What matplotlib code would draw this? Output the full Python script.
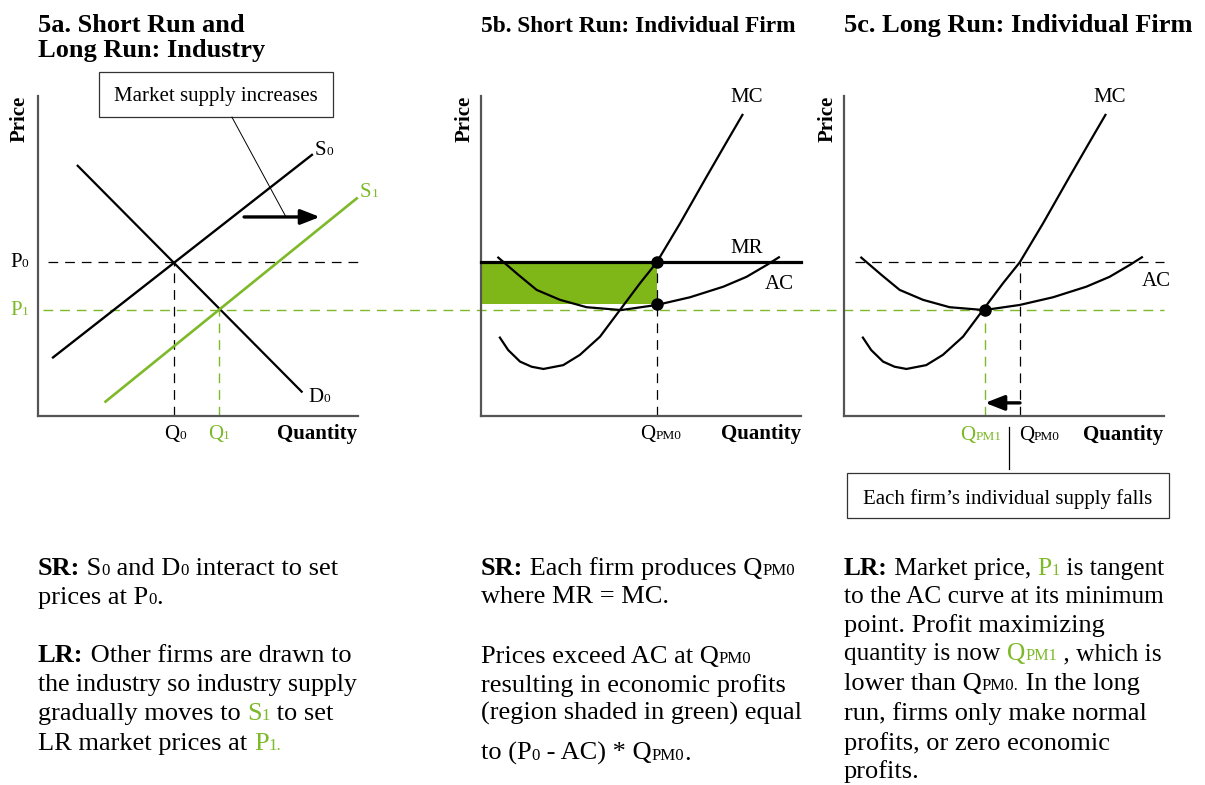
import matplotlib
matplotlib.use('Agg')
import matplotlib.pyplot as plt
from matplotlib.patches import Rectangle
from matplotlib.font_manager import FontProperties
import matplotlib.transforms as mtransforms

plt.rcParams['lines.scale_dashes'] = False
SERIF = ['Liberation Serif', 'DejaVu Serif']
GREEN = '#7DB928'
FILL_GREEN = '#7FB719'
AXIS_GRAY = '#555555'

# ---------------- data (panel units 0..10) ----------------
# Panel 5a: industry supply & demand
S0_Q = [0.47, 8.56]
S0_P = [1.83, 8.16]
S1_Q = [2.11, 9.96]
S1_P = [0.45, 6.80]
D0_Q = [1.24, 8.24]
D0_P = [7.82, 0.76]
P0 = 4.81
P1 = 3.31
Q0 = 4.25
Q1 = 5.67

# Panels 5b / 5c: firm cost curves
MC_Q = [0.59, 0.85, 1.22, 1.58, 1.95, 2.57, 3.09, 3.72, 4.34, 4.97, 5.49, 6.22, 7.05, 7.68, 8.17]
MC_P = [2.45, 2.06, 1.70, 1.54, 1.47, 1.59, 1.91, 2.48, 3.31, 4.15, 4.80, 6.02, 7.48, 8.57, 9.41]
AC_Q = [0.54, 1.17, 1.74, 2.47, 3.30, 4.38, 5.49, 6.53, 7.57, 8.30, 8.93, 9.31]
AC_P = [4.95, 4.41, 3.94, 3.63, 3.40, 3.31, 3.47, 3.71, 4.04, 4.35, 4.72, 4.96]
QPM0 = 5.50
QPM1 = 4.41
AC_AT_QPM0 = 3.50

# ---------------- figure & helpers ----------------
W, H = 1205, 785
fig = plt.figure(figsize=(W / 100, H / 100), dpi=100)
PX = mtransforms.Affine2D().scale(1 / 100, -1 / 100).translate(0, H / 100) + fig.dpi_scale_trans
renderer = fig.canvas.get_renderer()

DASH = (0, (7, 5))


def fp(size, bold=False):
    return FontProperties(family=SERIF, size=size, weight='bold' if bold else 'normal')


def twidth(s, size, bold=False):
    p = fp(size, bold)
    w1, _, _ = renderer.get_text_width_height_descent('x' + s + 'x', p, ismath=False)
    w0, _, _ = renderer.get_text_width_height_descent('xx', p, ismath=False)
    return (w1 - w0) * 100.0 / fig.dpi


def rich(x, y, pieces, size, ha='left', small=0.64):
    """pieces: list of (text, flags) where flags may contain b (bold), s (small), g (green)."""
    widths = []
    for txt, fl in pieces:
        sz = size * small if 's' in fl else size
        widths.append(twidth(txt, sz, 'b' in fl))
    total = sum(widths)
    if ha == 'center':
        x -= total / 2
    elif ha == 'right':
        x -= total
    for (txt, fl), w in zip(pieces, widths):
        sz = size * small if 's' in fl else size
        fig.text(x, y, txt, transform=PX, fontproperties=fp(sz, 'b' in fl),
                 color=GREEN if 'g' in fl else 'black', ha='left', va='baseline')
        x += w


def add_panel(left_px):
    ax = fig.add_axes([left_px / W, (H - 416) / H, 320 / W, 320 / H])
    ax.set_xlim(0, 10)
    ax.set_ylim(0, 10)
    ax.patch.set_visible(False)
    for s in ['top', 'right']:
        ax.spines[s].set_visible(False)
    for s in ['left', 'bottom']:
        ax.spines[s].set_color(AXIS_GRAY)
        ax.spines[s].set_linewidth(1.6)
    ax.set_xticks([])
    ax.set_yticks([])
    return ax


LAB = 15.0      # chart label size
BODY = 19.0     # explanatory text size
BODY_TIGHT = 18.3

# ---------------- Panel 5a ----------------
axa = add_panel(38)
x_end_c = (1164 - 38) / 32.0
axa.plot([0.16, x_end_c], [P1, P1], color=GREEN, lw=1.0, ls=DASH, clip_on=False, zorder=1)
axa.plot([0.31, 10], [P0, P0], color='black', lw=0.9, ls=DASH, clip_on=False, zorder=1)
axa.plot([Q0, Q0], [0, P0], color='black', lw=0.9, ls=DASH, clip_on=False, zorder=1)
axa.plot([Q1, Q1], [0, P1], color=GREEN, lw=1.0, ls=DASH, clip_on=False, zorder=1)
axa.plot(S0_Q, S0_P, color='black', lw=1.7, clip_on=False, zorder=3)
axa.plot(D0_Q, D0_P, color='black', lw=1.6, clip_on=False, zorder=3)
axa.plot(S1_Q, S1_P, color=GREEN, lw=1.9, clip_on=False, zorder=3)
axa.annotate('', xy=(8.81, 6.22), xytext=(6.44, 6.22),
             arrowprops=dict(arrowstyle='-|>,head_length=1.15,head_width=0.45',
                             lw=2.4, color='black', shrinkA=0, shrinkB=0), annotation_clip=False)
axa.plot([6.06, 7.75], [9.34, 6.22], color='black', lw=0.7, clip_on=False, zorder=2)
axa.add_patch(Rectangle((1.90, 9.34), 7.32, 1.41, fill=False, ec='#333333', lw=0.9, clip_on=False))

# ---------------- Panel 5b ----------------
axb = add_panel(481)
axb.add_patch(Rectangle((0, AC_AT_QPM0), QPM0, P0 - AC_AT_QPM0, fc=FILL_GREEN, ec='none', zorder=1))
axb.plot([QPM0, QPM0], [0, P0], color='black', lw=0.9, ls=DASH, clip_on=False, zorder=2)
axb.plot([0, 10], [P0, P0], color='black', lw=2.3, clip_on=False, zorder=3)
axb.plot(MC_Q, MC_P, color='black', lw=1.6, clip_on=False, zorder=3)
axb.plot(AC_Q, AC_P, color='black', lw=1.6, clip_on=False, zorder=3)
axb.plot([QPM0, QPM0], [P0, AC_AT_QPM0], 'o', color='black', ms=8, clip_on=False, zorder=4)

# ---------------- Panel 5c ----------------
axc = add_panel(844)
axc.plot([0.34, 10], [P0, P0], color='black', lw=0.9, ls=DASH, clip_on=False, zorder=1)
axc.plot([QPM0, QPM0], [0, P0], color='black', lw=0.9, ls=DASH, clip_on=False, zorder=1)
axc.plot([QPM1, QPM1], [0, P1], color=GREEN, lw=1.0, ls=DASH, clip_on=False, zorder=1)
axc.plot(MC_Q, MC_P, color='black', lw=1.6, clip_on=False, zorder=3)
axc.plot(AC_Q, AC_P, color='black', lw=1.6, clip_on=False, zorder=3)
axc.plot([QPM1], [P1], 'o', color='black', ms=8, clip_on=False, zorder=4)
axc.annotate('', xy=(QPM1, 0.41), xytext=(QPM0, 0.41),
             arrowprops=dict(arrowstyle='-|>,head_length=1.15,head_width=0.45',
                             lw=2.4, color='black', shrinkA=0, shrinkB=0), annotation_clip=False)
axc.plot([5.16, 5.16], [-0.34, -1.66], color='black', lw=0.9, clip_on=False)
axc.add_patch(Rectangle((0.08, -3.19), 10.08, 1.41, fill=False, ec='#333333', lw=0.9, clip_on=False))

# ---------------- titles ----------------
TITLE = 19.0
rich(38, 32, [('5a. Short Run and', 'b')], TITLE)
rich(38, 57, [('Long Run: Industry', 'b')], TITLE)
rich(481, 32, [('5b. Short Run: Individual Firm', 'b')], 16.8)
rich(844, 32, [('5c. Long Run: Individual Firm', 'b')], TITLE)

# ---------------- chart labels ----------------
for xc in (20, 464.5, 828):
    fig.text(xc, 119, 'Price', transform=PX, fontproperties=fp(LAB, True),
             rotation=90, ha='center', va='center')

# 5a
rich(216, 101, [('Market supply increases', '')], LAB, ha='center')
rich(315, 155, [('S', ''), ('0', 's')], LAB)
rich(360, 197, [('S', 'g'), ('1', 'gs')], LAB)
rich(308, 402, [('D', ''), ('0', 's')], LAB)
rich(10, 267, [('P', ''), ('0', 's')], LAB)
rich(10, 315, [('P', 'g'), ('1', 'gs')], LAB)
rich(164, 439, [('Q', ''), ('0', 's')], LAB)
rich(208, 439, [('Q', 'g'), ('1', 'gs')], LAB)
rich(357, 439, [('Quantity', 'b')], LAB, ha='right')

# 5b
rich(730, 102, [('MC', '')], LAB)
rich(730, 253, [('MR', '')], LAB)
rich(765, 289, [('AC', '')], LAB)
rich(640, 439, [('Q', ''), ('PM0', 's')], LAB)
rich(801, 439, [('Quantity', 'b')], LAB, ha='right')

# 5c
rich(1093, 102, [('MC', '')], LAB)
rich(1142, 286, [('AC', '')], LAB)
rich(960, 440, [('Q', 'g'), ('PM1', 'gs')], LAB)
rich(1019, 440, [('Q', ''), ('PM0', 's')], LAB)
rich(1163, 440, [('Quantity', 'b')], LAB, ha='right')
rich(1008, 504, [('Each firm\u2019s individual supply falls', '')], LAB, ha='center')

# ---------------- explanatory text ----------------
XA, XB, XC = 38, 481, 844
rich(XA, 575, [('SR:', 'b'), (' S', ''), ('0', 's'), (' and D', ''), ('0', 's'), (' interact to set', '')], BODY)
rich(XA, 604, [('prices at P', ''), ('0', 's'), ('.', '')], BODY)
rich(XA, 662, [('LR:', 'b'), (' Other firms are drawn to', '')], BODY)
rich(XA, 691, [('the industry so industry supply', '')], 18.6)
rich(XA, 720, [('gradually moves to ', ''), ('S', 'g'), ('1', 'gs'), (' to set', '')], BODY)
rich(XA, 750, [('LR market prices at ', ''), ('P', 'g'), ('1.', 'gs')], BODY)

rich(XB, 575, [('SR:', 'b'), (' Each firm produces Q', ''), ('PM0', 's')], BODY)
rich(XB, 603, [('where MR = MC.', '')], BODY)
rich(XB, 663, [('Prices exceed AC at Q', ''), ('PM0', 's')], BODY)
rich(XB, 692, [('resulting in economic profits', '')], BODY)
rich(XB, 720, [('(region shaded in green) equal', '')], BODY)
rich(XB, 760, [('to (P', ''), ('0', 's'), (' - AC) * Q', ''), ('PM0', 's'), ('.', '')], BODY)

rich(XC, 575, [('LR:', 'b'), (' Market price, ', ''), ('P', 'g'), ('1', 'gs'), (' is tangent', '')], BODY_TIGHT)
rich(XC, 603, [('to the AC curve at its minimum', '')], BODY_TIGHT)
rich(XC, 632, [('point. Profit maximizing', '')], BODY)
rich(XC, 660, [('quantity is now ', ''), ('Q', 'g'), ('PM1', 'gs'), (' , which is', '')], BODY_TIGHT)
rich(XC, 690, [('lower than Q', ''), ('PM0.', 's'), (' In the long', '')], BODY)
rich(XC, 720, [('run, firms only make normal', '')], BODY)
rich(XC, 750, [('profits, or zero economic', '')], BODY)
rich(XC, 778, [('profits.', '')], BODY)

fig.savefig('out.png', dpi=100, facecolor='white')
